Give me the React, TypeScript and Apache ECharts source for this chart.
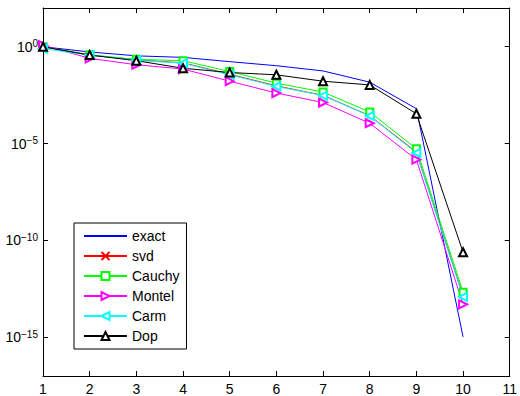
import React, { useEffect, useRef } from "react";
import * as echarts from "echarts";

// x positions (matrix order / index)
const xValues = [1, 2, 3, 4, 5, 6, 7, 8, 9, 10];

// log10 of the error for each method
const exactLog = [0, -0.27, -0.47, -0.55, -0.77, -0.98, -1.25, -1.83, -3.2, -14.98];
const svdLog = [0, -0.43, -0.68, -0.83, -1.42, -2.02, -2.51, -3.56, -5.44, -12.86];
const cauchyLog = [0, -0.42, -0.65, -0.72, -1.28, -1.88, -2.34, -3.37, -5.27, -12.67];
const montelLog = [0.08, -0.6, -0.93, -1.15, -1.78, -2.39, -2.88, -3.95, -5.83, -13.3];
const carmLog = [-0.1, -0.43, -0.7, -0.85, -1.45, -2.05, -2.52, -3.57, -5.48, -12.92];
const dopLog = [0, -0.43, -0.72, -1.11, -1.33, -1.45, -1.78, -1.97, -3.46, -10.61];

const xTicks = [1, 2, 3, 4, 5, 6, 7, 8, 9, 10, 11];
const yTicks = [-15, -10, -5, 0];

const FONT = "'Liberation Sans', Arial, Helvetica, sans-serif";

const pair = (vals: number[]) => xValues.map((x, i) => [x, vals[i]]);

export default function App() {
  const ref = useRef<HTMLDivElement>(null);
  useEffect(() => {
    if (!ref.current) return;
    const chart = echarts.init(ref.current, undefined, { renderer: "svg" });
    const black = "#000";
    const tickStyle = { show: true, inside: true, length: 5, lineStyle: { color: black, width: 1 } };
    const axisLine = { show: true, onZero: false, lineStyle: { color: black, width: 1 } };
    const mk = (
      name: string,
      data: number[],
      color: string,
      symbol: string,
      symbolSize: number,
      rotate = 0
    ) => ({
      name,
      type: "line",
      data: pair(data),
      symbol,
      symbolSize,
      symbolRotate: rotate,
      showSymbol: symbol !== "none",
      lineStyle: { color, width: 1 },
      itemStyle: { color, borderColor: color, borderWidth: 1 },
      emphasis: { disabled: true },
      clip: false,
      z: 2,
    });
    chart.setOption({
      animation: false,
      backgroundColor: "#fff",
      textStyle: { fontFamily: FONT },
      grid: { left: 43, right: 8, top: 8, bottom: 18, show: false },
      legend: {
        orient: "vertical",
        left: 74,
        top: 223,
        padding: [6, 7, 6, 9],
        itemWidth: 43,
        itemHeight: 10,
        itemGap: 6,
        backgroundColor: "#fff",
        borderColor: black,
        borderWidth: 1,
        textStyle: { fontFamily: FONT, fontSize: 14, color: black, lineHeight: 14 },
        data: [
          { name: "exact", itemStyle: { opacity: 0 } },
          "svd",
          "Cauchy",
          "Montel",
          "Carm",
          "Dop",
        ],
        selectedMode: false,
      },
      xAxis: [
        {
          type: "value",
          min: 1,
          max: 11,
          interval: 1,
          position: "bottom",
          axisLine,
          axisTick: tickStyle,
          splitLine: { show: false },
          axisLabel: {
            color: black,
            fontSize: 14,
            fontFamily: FONT,
            margin: 6,
            customValues: xTicks,
          },
        },
        {
          type: "value",
          min: 1,
          max: 11,
          interval: 1,
          position: "top",
          axisLine,
          axisTick: tickStyle,
          splitLine: { show: false },
          axisLabel: { show: false },
        },
      ],
      yAxis: [
        {
          type: "value",
          min: -17,
          max: 2,
          position: "left",
          axisLine,
          axisTick: { ...tickStyle, customValues: yTicks },
          splitLine: { show: false },
          axisLabel: {
            customValues: yTicks,
            margin: 5,
            color: black,
            fontFamily: FONT,
            formatter: (v: number) =>
              `{b|10}{s|${v === 0 ? "0" : "\u2212" + Math.abs(v)}}`,
            rich: {
              b: { fontSize: 14, lineHeight: 16, fontFamily: FONT, color: black, verticalAlign: "middle" },
              s: { fontSize: 10, lineHeight: 10, fontFamily: FONT, color: black, verticalAlign: "top" },
            },
          },
        },
        {
          type: "value",
          min: -17,
          max: 2,
          position: "right",
          axisLine,
          axisTick: { ...tickStyle, customValues: yTicks },
          splitLine: { show: false },
          axisLabel: { show: false },
        },
      ],
      series: [
        mk("exact", exactLog, "#0000ff", "none", 0),
        mk("svd", svdLog, "#ff0000", "path://M0,0L10,10M10,0L0,10", 6),
        mk("Cauchy", cauchyLog, "#00ff00", "emptyRect", 7),
        mk("Montel", montelLog, "#ff00ff", "emptyTriangle", 8, -90),
        mk("Carm", carmLog, "#00ffff", "emptyTriangle", 8, 90),
        mk("Dop", dopLog, "#000000", "emptyTriangle", 8),
      ],
    });
    return () => chart.dispose();
  }, []);
  return <div ref={ref} style={{ width: 520, height: 396, position: "absolute", left: 0, top: 0 }} />;
}
